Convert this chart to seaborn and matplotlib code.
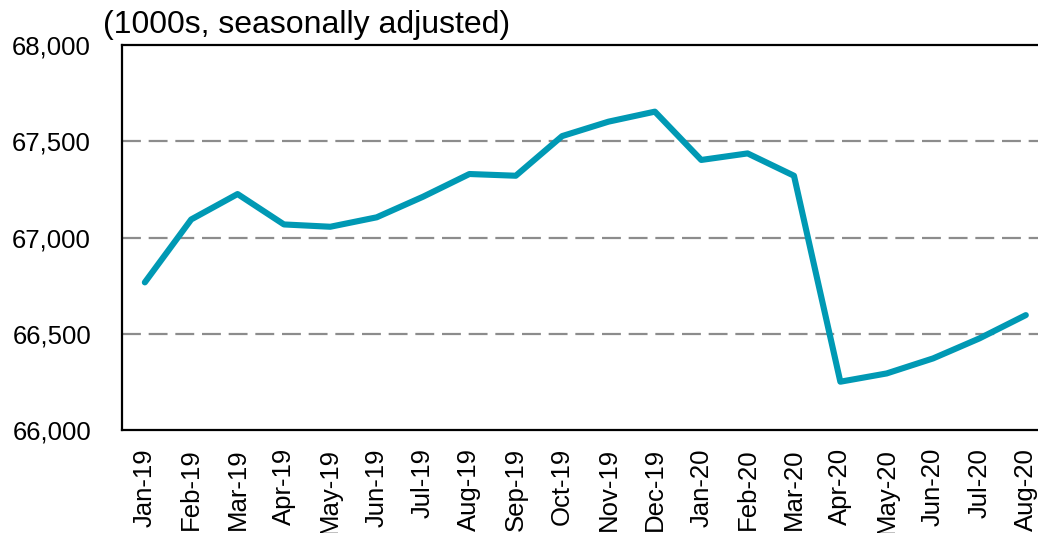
"""Monthly series, 1000s seasonally adjusted, Jan-19 to Aug-20."""

import matplotlib
matplotlib.use('Agg')
import matplotlib.pyplot as plt
import pandas as pd
import seaborn as sns

months = [
    "Jan-19", "Feb-19", "Mar-19", "Apr-19", "May-19", "Jun-19", "Jul-19",
    "Aug-19", "Sep-19", "Oct-19", "Nov-19", "Dec-19", "Jan-20", "Feb-20",
    "Mar-20", "Apr-20", "May-20", "Jun-20", "Jul-20", "Aug-20",
]
values = [
    66767, 67094, 67226, 67068, 67056, 67105, 67212,
    67330, 67321, 67527, 67602, 67654, 67403, 67437,
    67321, 66251, 66294, 66372, 66476, 66597,
]
y_ticks = [66000, 66500, 67000, 67500, 68000]
unit_label = "(1000s, seasonally adjusted)"

LINE_COLOR = "#0099b4"
GRID_COLOR = "#8c8c8c"

sns.set_style("white")
plt.rcParams["font.family"] = ["Liberation Sans", "DejaVu Sans"]
plt.rcParams["text.color"] = "black"
plt.rcParams["xtick.color"] = "black"
plt.rcParams["ytick.color"] = "black"

df = pd.DataFrame({"month": months, "value": values})

fig = plt.figure(figsize=(10.38, 5.33), dpi=100)
ax = fig.add_axes([0.1172, 0.1932, 0.8934, 0.7223])

# dashed horizontal gridlines behind the line
for yv in y_ticks[1:-1]:
    ax.axhline(yv, color=GRID_COLOR, lw=1.6, linestyle=(0, (8.5, 3.5)), zorder=1)

sns.lineplot(data=df, x="month", y="value", sort=False, color=LINE_COLOR,
             lw=4.4, solid_capstyle="round", ax=ax, zorder=3)

ax.set_xlim(-0.5, len(months) - 0.5)
ax.set_ylim(y_ticks[0], y_ticks[-1])
ax.set_yticks(y_ticks)
ax.set_yticklabels([f"{v:,}" for v in y_ticks])
ax.set_xticks(range(len(months)))
ax.set_xticklabels(months, rotation=90)
ax.set_xlabel("")
ax.set_ylabel("")
ax.tick_params(axis="x", length=0, pad=13, labelsize=18.5, labelcolor="black")
ax.tick_params(axis="y", length=0, pad=22, labelsize=18.5, labelcolor="black")

for side in ["left", "bottom", "top", "right"]:
    ax.spines[side].set_visible(True)
    ax.spines[side].set_color("black")
    ax.spines[side].set_linewidth(1.6)

fig.text(102.7 / 1038, 1 - 33.3 / 533, unit_label, fontsize=23,
         color="black", ha="left", va="baseline")

fig.savefig("out.png", dpi=100)
plt.close(fig)
